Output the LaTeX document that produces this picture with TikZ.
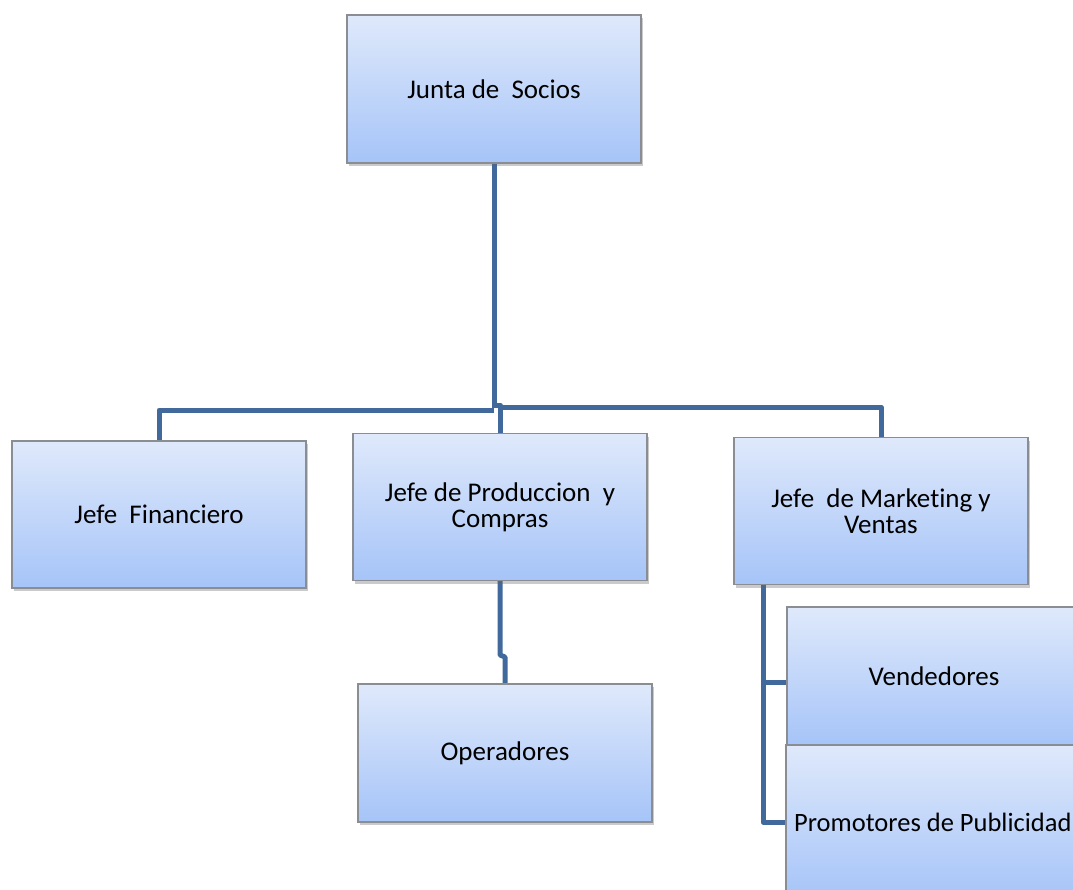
\documentclass[tikz,border=0pt]{standalone}
\usepackage{fontspec}
\setmainfont{Carlito}[Ligatures=NoCommon]
\usetikzlibrary{shadows,backgrounds}
\definecolor{linkblue}{HTML}{41699B}
\definecolor{boxtop}{HTML}{DFE9FB}
\definecolor{boxbot}{HTML}{A6C4F8}
\definecolor{boxedge}{HTML}{8A8D92}
\begin{document}
\begin{tikzpicture}[x=1pt,y=-1pt,
  orgbox/.style={draw=boxedge, line width=1.2pt, top color=boxtop, bottom color=boxbot,
    minimum width=294pt, minimum height=147pt, inner sep=0pt, align=center,
    font=\fontsize{27}{26}\selectfont,
    drop shadow={shadow xshift=2pt, shadow yshift=-3pt, opacity=0.35, fill=black!60}},
  link/.style={draw=linkblue, line width=5pt, line join=round},
  lbl/.style={font=\fontsize{26.5}{26}\selectfont, inner sep=0pt}]
\useasboundingbox (0,0) rectangle (1073,890);
\clip (0,0) rectangle (1073,890);

% boxes
\node[orgbox, minimum height=148pt] (junta) at (494,89) {Junta de\ \ Socios};
\node[orgbox] (fin)  at (159,514.5) {Jefe\ \ Financiero};
\node[orgbox] (prod) at (500,507)   {Jefe de Produccion\ \ y\\Compras};
\node[orgbox] (mkt)  at (881,511)   {Jefe\ \ de Marketing y\\Ventas};
\node[orgbox, minimum height=138pt] (oper) at (505,753) {Operadores};
\node[orgbox, minimum height=138pt] (vend) at (934,676) {Vendedores};
\node[orgbox, minimum height=154pt] (promo) at (933,822) {};
\node[lbl, anchor=west] (promotxt) at (794,822) {Promotores de Publicidad};

% connectors, behind the boxes
\begin{scope}[on background layer]
  \coordinate (hub) at (494,408);
  \draw[link] (junta.south) -- (hub);
  \draw[link] (494,410) -| (fin.north);
  \draw[link] (494,405) -- (500,405) -- (prod.north);
  \draw[link] (500,407) -| (mkt.north);
  \draw[link] (prod.south) -- (500,655) -- (505,657) -- (oper.north);
  \coordinate (mktdrop) at (763,585);
  \draw[link] (mktdrop) -- (763,822) -- (promo.west |- 0,822);
  \draw[link] (763,682) -- (vend.west |- 0,682);
\end{scope}
\end{tikzpicture}
\end{document}
